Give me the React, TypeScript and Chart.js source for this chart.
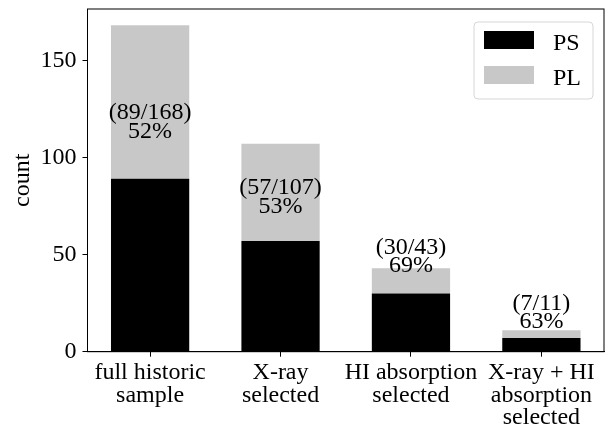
import React, { useEffect, useRef } from "react";
import { Chart, registerables } from "chart.js";

Chart.register(...registerables);

const categories: string[][] = [
  ["full historic", "sample"],
  ["X-ray", "selected"],
  ["HI absorption", "selected"],
  ["X-ray + HI", "absorption", "selected"],
];
const psValues: number[] = [89, 57, 30, 7];
const plValues: number[] = [79, 50, 13, 4];
const totals: number[] = [168, 107, 43, 11];
const percentLabels: string[] = ["52%", "53%", "69%", "63%"];
const labelBaselineY: number[] = [110, 71.4, 41, 12.1];
const yTicks: number[] = [0, 50, 100, 150];
const seriesNames: string[] = ["PS", "PL"];

const FONT = "'Liberation Serif', 'Times New Roman', serif";
const FS = 24;

export default function App() {
  const ref = useRef<HTMLCanvasElement | null>(null);

  useEffect(() => {
    document.body.style.margin = "0";
    const canvas = ref.current;
    if (!canvas) return;

    const overlay = {
      id: "overlay",
      afterDraw(chart: any) {
        const ctx = chart.ctx;
        const area = chart.chartArea;
        const xs = chart.scales.x;
        const ys = chart.scales.y;
        ctx.save();
        // frame
        ctx.strokeStyle = "#000";
        ctx.lineWidth = 1;
        ctx.strokeRect(area.left, area.top, area.right - area.left, area.bottom - area.top);

        // annotations
        ctx.fillStyle = "#000";
        ctx.font = `${FS}px ${FONT}`;
        ctx.textAlign = "center";
        ctx.textBaseline = "alphabetic";
        for (let i = 0; i < totals.length; i++) {
          const x = xs.getPixelForValue(i);
          const y = ys.getPixelForValue(labelBaselineY[i]);
          ctx.fillText(`(${psValues[i]}/${totals[i]})`, x, y - 18.5);
          ctx.fillText(percentLabels[i], x, y);
        }

        // y title
        ctx.save();
        ctx.translate(29, (area.top + area.bottom) / 2);
        ctx.rotate(-Math.PI / 2);
        ctx.textAlign = "center";
        ctx.fillText("count", 0, 0);
        ctx.restore();

        // legend
        const colors = chart.data.datasets.map((d: any) => d.backgroundColor);
        const bx = 474, by = 22, bw = 119, bh = 77, r = 4;
        ctx.beginPath();
        ctx.moveTo(bx + r, by);
        ctx.arcTo(bx + bw, by, bx + bw, by + bh, r);
        ctx.arcTo(bx + bw, by + bh, bx, by + bh, r);
        ctx.arcTo(bx, by + bh, bx, by, r);
        ctx.arcTo(bx, by, bx + bw, by, r);
        ctx.closePath();
        ctx.fillStyle = "rgba(255,255,255,0.8)";
        ctx.fill();
        ctx.strokeStyle = "#d6d6d6";
        ctx.lineWidth = 1;
        ctx.stroke();
        ctx.textAlign = "left";
        for (let i = 0; i < seriesNames.length; i++) {
          const sy = 31 + i * 35;
          ctx.fillStyle = colors[i];
          ctx.fillRect(484, sy, 50, 18);
          ctx.fillStyle = "#000";
          ctx.fillText(seriesNames[i], 553, sy + 18.5);
        }
        ctx.restore();
      },
    };

    const chart = new Chart(canvas, {
      type: "bar",
      data: {
        datasets: [
          {
            label: seriesNames[0],
            data: psValues.map((v, i) => ({ x: i, y: v })),
            backgroundColor: "#000000",
            borderWidth: 0,
          },
          {
            label: seriesNames[1],
            data: plValues.map((v, i) => ({ x: i, y: v })),
            backgroundColor: "#c8c8c8",
            borderWidth: 0,
          },
        ],
      },
      options: {
        animation: false,
        responsive: false,
        layout: { padding: { left: 0, right: 5, top: 9, bottom: 0 } },
        datasets: { bar: { categoryPercentage: 1, barPercentage: 0.6 } },
        plugins: { legend: { display: false }, tooltip: { enabled: false } },
        scales: {
          x: {
            type: "linear",
            min: -0.48,
            max: 3.48,
            stacked: true,
            offset: false,
            afterBuildTicks: (s: any) => {
              s.ticks = categories.map((_, i) => ({ value: i }));
            },
            afterFit: (s: any) => {
              s.height = 435 - 351.7;
              s.paddingLeft = 0;
              s.paddingRight = 0;
            },
            grid: {
              offset: false,
              drawOnChartArea: false,
              drawTicks: true,
              tickLength: 5,
              tickColor: "#000",
            },
            border: { display: true, color: "#000", width: 1 },
            ticks: {
              autoSkip: false,
              maxRotation: 0,
              padding: 5,
              color: "#000",
              font: { family: FONT, size: FS, lineHeight: 0.94 },
              callback: (v: any) => categories[Math.round(Number(v))] ?? "",
            },
          },
          y: {
            type: "linear",
            min: 0,
            max: 176.4,
            stacked: true,
            afterBuildTicks: (s: any) => {
              s.ticks = yTicks.map((v) => ({ value: v }));
            },
            afterFit: (s: any) => {
              s.width = 87.5;
              s.paddingTop = 0;
              s.paddingBottom = 0;
            },
            grid: {
              drawOnChartArea: false,
              drawTicks: true,
              tickLength: 5,
              tickColor: "#000",
            },
            border: { display: true, color: "#000", width: 1 },
            ticks: {
              padding: 6,
              color: "#000",
              font: { family: FONT, size: FS },
            },
          },
        },
      },
      plugins: [overlay],
    });
    return () => chart.destroy();
  }, []);

  return (
    <div style={{ position: "fixed", left: 0, top: 0, width: 609, height: 435, background: "#fff" }}>
      <canvas ref={ref} width={609} height={435} />
    </div>
  );
}
